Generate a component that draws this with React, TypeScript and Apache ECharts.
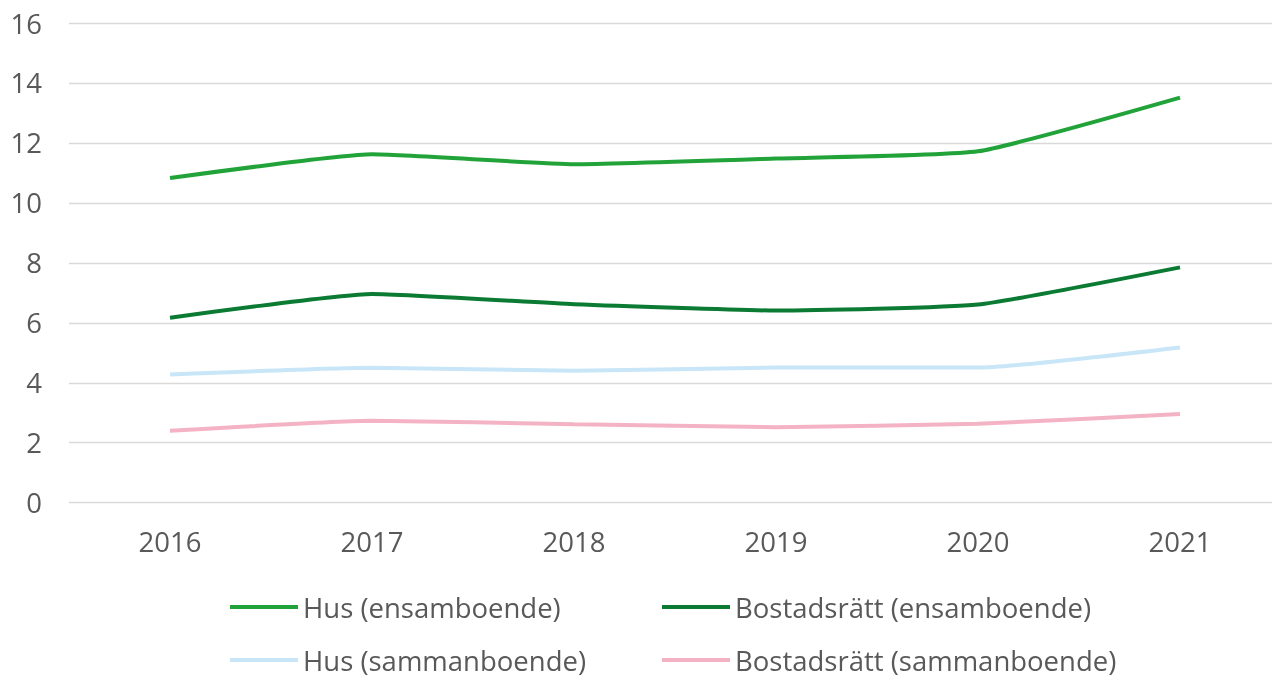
import React, { useEffect, useRef } from "react";
import * as echarts from "echarts";

const years = ["2016", "2017", "2018", "2019", "2020", "2021"];
const husEnsam = [10.83, 11.62, 11.29, 11.48, 11.72, 13.51];
const bostEnsam = [6.17, 6.96, 6.62, 6.41, 6.61, 7.85];
const husSamman = [4.28, 4.5, 4.4, 4.51, 4.51, 5.18];
const bostSamman = [2.4, 2.73, 2.62, 2.52, 2.63, 2.96];

const names = [
  "Hus (ensamboende)",
  "Bostadsrätt (ensamboende)",
  "Hus (sammanboende)",
  "Bostadsrätt (sammanboende)",
];
const colors = ["#22A33A", "#0B7A32", "#C8E6F8", "#F4B3C4"];

const FONT = "Open Sans";
const TEXT = "#595959";
const FS = 27.5;

export default function App() {
  const ref = useRef<HTMLDivElement>(null);
  useEffect(() => {
    if (!ref.current) return;
    const chart = echarts.init(ref.current, undefined, { renderer: "svg" });
    const data = [husEnsam, bostEnsam, husSamman, bostSamman];
    const legendPos = [
      { left: 225, top: 588 },
      { left: 657, top: 588 },
      { left: 225, top: 641 },
      { left: 657, top: 641 },
    ];
    chart.setOption({
      animation: false,
      grid: { left: 69, width: 1212, top: 23, height: 479.7 },
      legend: names.map((n, i) => ({
        ...legendPos[i],
        data: [n],
        itemWidth: 68,
        itemHeight: 4,
        icon: "rect",
        textStyle: { fontFamily: FONT, fontSize: FS, color: TEXT },
      })),
      xAxis: {
        type: "category",
        data: years,
        boundaryGap: true,
        axisLine: { show: false },
        axisTick: { show: false },
        axisLabel: {
          fontFamily: FONT,
          fontSize: FS,
          color: TEXT,
          margin: 25,
        },
      },
      yAxis: {
        type: "value",
        min: 0,
        max: 16,
        interval: 2,
        axisLine: { show: false },
        axisTick: { show: false },
        splitLine: { lineStyle: { color: "#D9D9D9", width: 1.3 } },
        axisLabel: {
          fontFamily: FONT,
          fontSize: FS,
          color: TEXT,
          margin: 27,
        },
      },
      series: names.map((n, i) => ({
        name: n,
        type: "line",
        data: data[i],
        smooth: 0.15,
        symbol: "none",
        showSymbol: false,
        itemStyle: { color: colors[i] },
        lineStyle: { color: colors[i], width: 4 },
      })),
    });
    return () => chart.dispose();
  }, []);
  return (
    <div
      ref={ref}
      style={{ position: "fixed", left: 0, top: 0, width: 1290, height: 677 }}
    />
  );
}
